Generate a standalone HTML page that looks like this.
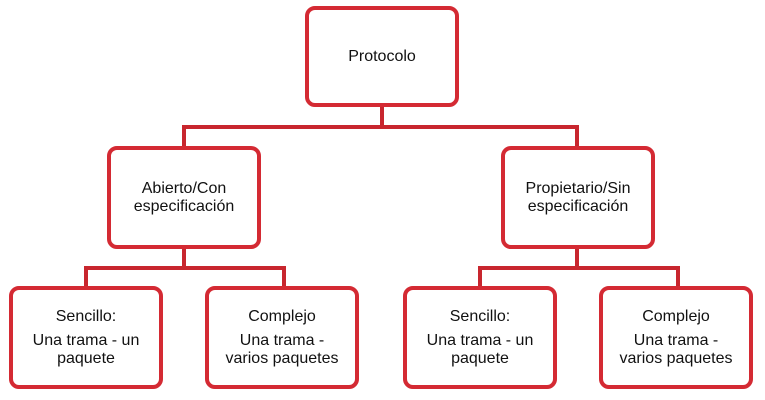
<!DOCTYPE html>
<html><head><style>
body{margin:0;background:#fff;width:765px;height:400px;overflow:hidden;position:relative;font-family:"Liberation Sans",Arial,sans-serif}
.b{position:absolute;box-sizing:border-box;border:4px solid #d42a33;border-radius:10px;background:#fff;display:flex;flex-direction:column;align-items:center;justify-content:center;text-align:center;font-size:16px;color:#111;line-height:18px}
.l{position:absolute;background:#c8262e}
p{margin:0}
</style></head><body>
<div class="l" style="left:380px;top:104px;width:4px;height:25px"></div>
<div class="l" style="left:182px;top:125px;width:397px;height:4px"></div>
<div class="l" style="left:182px;top:125px;width:4px;height:24px"></div>
<div class="l" style="left:575px;top:125px;width:4px;height:24px"></div>

<div class="l" style="left:182px;top:246px;width:4px;height:24px"></div>
<div class="l" style="left:84px;top:266px;width:202px;height:4px"></div>
<div class="l" style="left:84px;top:266px;width:4px;height:23px"></div>
<div class="l" style="left:282px;top:266px;width:4px;height:23px"></div>

<div class="l" style="left:575px;top:246px;width:4px;height:24px"></div>
<div class="l" style="left:478px;top:266px;width:202px;height:4px"></div>
<div class="l" style="left:478px;top:266px;width:4px;height:23px"></div>
<div class="l" style="left:676px;top:266px;width:4px;height:23px"></div>

<div class="b" style="left:305px;top:6px;width:154px;height:101px">Protocolo</div>
<div class="b" style="left:107px;top:146px;width:154px;height:103px">Abierto/Con<br>especificación</div>
<div class="b" style="left:501px;top:146px;width:154px;height:103px">Propietario/Sin<br>especificación</div>
<div class="b" style="left:9px;top:286px;width:154px;height:103px"><p style="margin-bottom:6px">Sencillo:</p><p>Una trama - un<br>paquete</p></div>
<div class="b" style="left:205px;top:286px;width:154px;height:103px"><p style="margin-bottom:6px">Complejo</p><p>Una trama -<br>varios paquetes</p></div>
<div class="b" style="left:403px;top:286px;width:154px;height:103px"><p style="margin-bottom:6px">Sencillo:</p><p>Una trama - un<br>paquete</p></div>
<div class="b" style="left:599px;top:286px;width:154px;height:103px"><p style="margin-bottom:6px">Complejo</p><p>Una trama -<br>varios paquetes</p></div>
</body></html>
